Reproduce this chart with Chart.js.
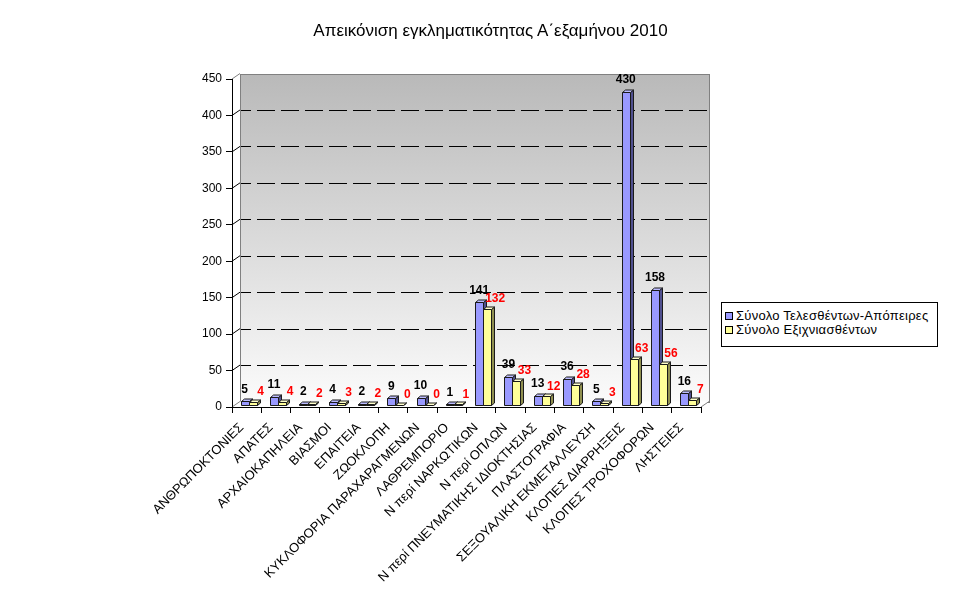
<!DOCTYPE html>
<html>
<head>
<meta charset="utf-8">
<script src="https://cdn.jsdelivr.net/npm/chart.js@4.4.1/dist/chart.umd.min.js"></script>
<style>
html,body{margin:0;padding:0;background:#fff;}
#wrap{position:relative;width:977px;height:600px;}
#title{position:absolute;left:2px;top:21px;width:977px;height:22px;line-height:22px;text-align:center;font:17px Arial,"Liberation Sans",sans-serif;color:#000;white-space:nowrap;}
#legend{position:absolute;left:721px;top:302px;width:217px;height:45px;border:1px solid #000;background:#fff;box-sizing:border-box;font:13px Arial,"Liberation Sans",sans-serif;letter-spacing:0.25px;color:#000;}
.item{position:absolute;left:3px;height:15px;line-height:15px;white-space:nowrap;}
.sw{display:inline-block;width:6px;height:6px;border:1px solid #000;margin-right:3px;vertical-align:0px;}
</style>
</head>
<body>
<div id="wrap">
<canvas id="c" width="977" height="600"></canvas>
<div id="title"></div>
<div id="legend"></div>
</div>
<script>
const categories = [
  'ΑΝΘΡΩΠΟΚΤΟΝΙΕΣ','ΑΠΑΤΕΣ','ΑΡΧΑΙΟΚΑΠΗΛΕΙΑ','ΒΙΑΣΜΟΙ','ΕΠΑΙΤΕΙΑ','ΖΩΟΚΛΟΠΗ',
  'ΚΥΚΛΟΦΟΡΙΑ ΠΑΡΑΧΑΡΑΓΜΕΝΩΝ','ΛΑΘΡΕΜΠΟΡΙΟ','Ν περί ΝΑΡΚΩΤΙΚΩΝ','Ν περί ΟΠΛΩΝ',
  'Ν περί ΠΝΕΥΜΑΤΙΚΗΣ ΙΔΙΟΚΤΗΣΙΑΣ','ΠΛΑΣΤΟΓΡΑΦΙΑ','ΣΕΞΟΥΑΛΙΚΗ ΕΚΜΕΤΑΛΛΕΥΣΗ',
  'ΚΛΟΠΕΣ ΔΙΑΡΡΗΞΕΙΣ','ΚΛΟΠΕΣ ΤΡΟΧΟΦΟΡΩΝ','ΛΗΣΤΕΙΕΣ'
];
const seriesNames = ['Σύνολο Τελεσθέντων-Απόπειρες','Σύνολο Εξιχνιασθέντων'];
const totalValues  = [5,11,2,4,2,9,10,1,141,39,13,36,5,430,158,16];
const solvedValues = [4,4,2,3,2,0,0,1,132,33,12,28,3,63,56,7];
const yTickValues = [0,50,100,150,200,250,300,350,400,450];
const titleText = 'Απεικόνιση εγκληματικότητας Α΄εξαμήνου 2010';

const FONT = 'Arial, "Liberation Sans", sans-serif';
const WALL_DX = 8, WALL_DY = 5.5;
const BAR_DX = 3, BAR_DY = 2.5;
const SHIFT_X = 2, SHIFT_Y = 2;
const styles = [
  {front:'#9999ff', side:'#50508f', top:'#bcbcff', label:'#000000', lx:0, ly:12},
  {front:'#ffff99', side:'#909050', top:'#ffffcc', label:'#ff0000', lx:8, ly:10}
];

document.getElementById('title').textContent = titleText;

// HTML legend
const legendEl = document.getElementById('legend');
seriesNames.forEach((n,i)=>{
  const d = document.createElement('div');
  d.className='item';
  d.style.top = (i===0 ? 5 : 19) + 'px';
  d.innerHTML = '<span class="sw" style="background:'+styles[i].front+'"></span>'+n;
  legendEl.appendChild(d);
});

const px = v => Math.round(v) + 0.5;

const scene3d = {
  id:'scene3d',
  beforeDraw(chart){
    const {ctx, chartArea:a, scales} = chart;
    const ys = scales.y;
    ctx.save();
    ctx.fillStyle = '#ffffff';
    ctx.beginPath();
    ctx.moveTo(a.left, a.top); ctx.lineTo(a.left+WALL_DX, a.top-WALL_DY);
    ctx.lineTo(a.left+WALL_DX, a.bottom-WALL_DY); ctx.lineTo(a.left, a.bottom);
    ctx.closePath(); ctx.fill();
    const wl = Math.round(a.left+WALL_DX), wr = Math.round(a.right+WALL_DX);
    const wt = Math.round(a.top-WALL_DY), wb = Math.round(a.bottom-WALL_DY);
    const g = ctx.createLinearGradient(0, wt, 0, wb);
    g.addColorStop(0, '#b9b9b9');
    g.addColorStop(1, '#fbfbfb');
    ctx.fillStyle = g;
    ctx.fillRect(wl, wt, wr-wl, wb-wt);
    ctx.strokeStyle = '#808080'; ctx.lineWidth = 1;
    ctx.strokeRect(wl+0.5, wt+0.5, wr-wl, wb-wt);
    ctx.fillStyle = '#ffffff';
    ctx.beginPath();
    ctx.moveTo(a.left, a.bottom); ctx.lineTo(a.right, a.bottom);
    ctx.lineTo(a.right+WALL_DX, a.bottom-WALL_DY); ctx.lineTo(a.left+WALL_DX, a.bottom-WALL_DY);
    ctx.closePath(); ctx.fill();
    ctx.strokeStyle = '#808080';
    ctx.beginPath();
    ctx.moveTo(a.left, a.top); ctx.lineTo(a.left+WALL_DX, a.top-WALL_DY);
    ctx.moveTo(a.left, a.bottom); ctx.lineTo(a.left+WALL_DX, a.bottom-WALL_DY);
    ctx.moveTo(a.right, a.bottom); ctx.lineTo(a.right+WALL_DX, a.bottom-WALL_DY);
    ctx.stroke();
    ctx.strokeStyle = '#000000';
    yTickValues.slice(1, -1).forEach(v=>{
      const yy = ys.getPixelForValue(v);
      ctx.setLineDash([]);
      ctx.beginPath();
      ctx.moveTo(a.left, yy); ctx.lineTo(a.left+WALL_DX, yy-WALL_DY);
      ctx.stroke();
      ctx.setLineDash([18,6]);
      ctx.lineDashOffset = 8;
      ctx.beginPath();
      ctx.moveTo(wl+1, px(yy-WALL_DY)); ctx.lineTo(wr, px(yy-WALL_DY));
      ctx.stroke();
    });
    ctx.restore();
  },
  beforeDatasetsDraw(chart){
    const ctx = chart.ctx;
    ctx.save();
    ctx.lineWidth = 1;
    ctx.strokeStyle = '#1a1a1a';
    const metas = [chart.getDatasetMeta(0), chart.getDatasetMeta(1)];
    for (let i = 0; i < categories.length; i++) {
      metas.forEach((meta, s)=>{
        const el = meta.data[i];
        const p = el.getProps(['x','y','base','width'], true);
        const st = styles[s];
        const xL = Math.round(p.x - p.width/2 + SHIFT_X) + 0.5;
        const xR = Math.round(p.x + p.width/2 + SHIFT_X) + 0.5;
        const yT = Math.round(p.y - SHIFT_Y) + 0.5;
        const yB = Math.round(p.base - SHIFT_Y) + 0.5;
        ctx.fillStyle = st.front;
        ctx.beginPath(); ctx.rect(xL, yT, xR-xL, yB-yT); ctx.fill(); ctx.stroke();
        ctx.fillStyle = st.side;
        ctx.beginPath();
        ctx.moveTo(xR, yB); ctx.lineTo(xR+BAR_DX, yB-BAR_DY);
        ctx.lineTo(xR+BAR_DX, yT-BAR_DY); ctx.lineTo(xR, yT);
        ctx.closePath(); ctx.fill(); ctx.stroke();
        ctx.fillStyle = st.top;
        ctx.beginPath();
        ctx.moveTo(xL, yT); ctx.lineTo(xL+BAR_DX, yT-BAR_DY);
        ctx.lineTo(xR+BAR_DX, yT-BAR_DY); ctx.lineTo(xR, yT);
        ctx.closePath(); ctx.fill(); ctx.stroke();
      });
    }
    ctx.textAlign = 'center';
    ctx.textBaseline = 'middle';
    ctx.font = 'bold 12px ' + FONT;
    metas.forEach((meta, s)=>{
      const st = styles[s];
      const vals = s === 0 ? totalValues : solvedValues;
      ctx.fillStyle = st.label;
      meta.data.forEach((el, i)=>{
        const p = el.getProps(['x','y','width'], true);
        ctx.fillText(String(vals[i]), p.x + SHIFT_X + st.lx, p.y - SHIFT_Y - st.ly);
      });
    });
    ctx.restore();
    return false;
  }
};

new Chart(document.getElementById('c'), {
  type:'bar',
  data:{
    labels: categories,
    datasets:[
      {label: seriesNames[0], data: totalValues, backgroundColor: styles[0].front},
      {label: seriesNames[1], data: solvedValues, backgroundColor: styles[1].front}
    ]
  },
  options:{
    responsive:false,
    animation:false,
    events:[],
    categoryPercentage:0.546,
    barPercentage:1,
    layout:{padding:{left:0, right:276, top:79, bottom:0}},
    plugins:{
      legend:{display:false},
      tooltip:{enabled:false},
      title:{display:false}
    },
    scales:{
      x:{
        offset:true,
        grid:{display:true, offset:true, drawOnChartArea:false, drawTicks:true, tickLength:6, color:'#000'},
        border:{display:true, color:'#000'},
        ticks:{autoSkip:false, maxRotation:45, minRotation:45, color:'#000', padding:7, labelOffset:-5,
          font:{family:FONT, size:13}},
        afterFit(scale){ scale.height = 193; }
      },
      y:{
        min:0, max:450,
        grid:{display:true, drawOnChartArea:false, drawTicks:true, tickLength:6, color:'#000'},
        border:{display:true, color:'#000'},
        ticks:{stepSize:50, color:'#000', padding:4, font:{family:FONT, size:12}},
        afterFit(scale){ scale.width = 232; }
      }
    }
  },
  plugins:[scene3d]
});
</script>
</body>
</html>
